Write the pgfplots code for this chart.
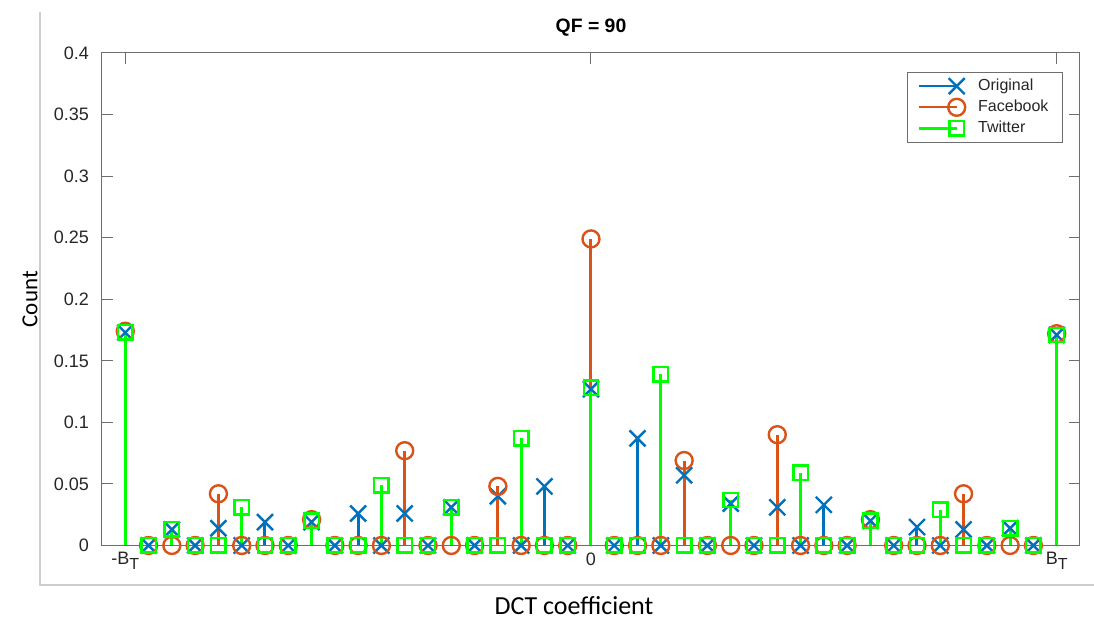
\documentclass[border=0pt]{standalone}
\usepackage{pgfplots}
\pgfplotsset{compat=1.18}
\usepackage{pgfplotstable}
\usepackage{fontspec}
\setmainfont{Liberation Sans}
\newfontfamily\calibri{Carlito}
\definecolor{mblue}{rgb}{0,0.447,0.741}
\definecolor{morange}{rgb}{0.85,0.325,0.098}
\definecolor{mgreen}{rgb}{0,1,0}
\definecolor{framegray}{RGB}{205,205,205}
\definecolor{axgray}{RGB}{110,110,110}
\definecolor{txt}{RGB}{38,38,38}

\pgfplotstableread{
k O F T
-20 0.173 0.174 0.173
-19 0 0 0
-18 0.013 0 0.013
-17 0 0 0
-16 0.014 0.042 0
-15 0 0 0.031
-14 0.019 0 0
-13 0 0 0
-12 0.019 0.021 0.020
-11 0 0 0
-10 0.026 0 0
-9 0 0 0.049
-8 0.026 0.077 0
-7 0 0 0
-6 0.031 0 0.031
-5 0 0 0
-4 0.040 0.048 0
-3 0 0 0.087
-2 0.048 0 0
-1 0 0 0
0 0.127 0.249 0.128
1 0 0 0
2 0.087 0 0
3 0 0 0.139
4 0.057 0.069 0
5 0 0 0
6 0.034 0 0.037
7 0 0 0
8 0.031 0.090 0
9 0 0 0.059
10 0.033 0 0
11 0 0 0
12 0.020 0.021 0.020
13 0 0 0
14 0.015 0 0
15 0 0 0.029
16 0.013 0.042 0
17 0 0 0
18 0.014 0 0.014
19 0 0 0
20 0.171 0.172 0.171
}\data

\newcommand{\sub}[1]{\raisebox{-0.5ex}{\fontsize{8}{9}\selectfont #1}}

\begin{document}
\begin{tikzpicture}
\path[use as bounding box] (-51pt,-36.75pt) rectangle (496pt,272.75pt);
\draw[framegray, line width=0.8pt] (-31pt,266.75pt) -- (-31pt,-19.75pt) -- (496pt,-19.75pt);
\begin{axis}[
  at={(0,0)}, anchor=south west,
  scale only axis, width=489pt, height=246.25pt,
  clip=false,
  xmin=-21, xmax=21, ymin=0, ymax=0.4,
  xtick={-20,0,20}, xticklabels={-B\sub{T},0,B\sub{T}},
  ytick={0,0.05,0.1,0.15,0.2,0.25,0.3,0.35,0.4},
  scaled y ticks=false,
  yticklabel style={/pgf/number format/fixed, /pgf/number format/precision=2, xshift=-3pt},
  /pgf/number format/assume math mode=true,
  tick label style={font=\fontsize{9}{10.5}\selectfont, text=txt},
  axis line style={axgray, line width=0.5pt},
  major tick style={axgray, line width=0.5pt},
  major tick length=5.5pt,
  tick align=inside,
  title={QF = 90},
  title style={font=\bfseries\fontsize{9.7}{11}\selectfont, text=black, at={(axis description cs:0.5,1.0264)}, anchor=center},
  xlabel={DCT coefficient},
  xlabel style={font=\calibri\fontsize{13}{15}\selectfont, text=black, at={(axis description cs:0.4826,-0.1228)}, anchor=center},
  ylabel={Count},
  ylabel style={font=\calibri\fontsize{11.5}{13}\selectfont, text=black, at={(axis description cs:-0.0736,0.5)}, anchor=center},
  legend image code/.code={\draw[#1, mark repeat=2, mark phase=2] plot coordinates {(0pt,0pt) (19pt,0pt)};},
  legend cell align=left,
  legend style={at={(axis description cs:0.9826,0.9614)}, anchor=north east, draw=axgray, line width=0.5pt,
    font=\fontsize{8}{9.6}\selectfont, text=txt, inner xsep=5pt, inner ysep=1.2pt, row sep=-0.75pt,
    /tikz/every odd column/.append style={column sep=4.5pt}},
]
\addplot[ycomb, mblue, line width=1.5pt, mark=none, forget plot] table[x=k,y=O]{\data};
\addplot[only marks, mblue, mark=x, mark size=5.66pt, mark options={line width=1.2pt}, forget plot] table[x=k,y=O]{\data};
\addplot[ycomb, morange, line width=1.5pt, mark=none, forget plot] table[x=k,y=F]{\data};
\addplot[only marks, morange, mark=o, mark size=4.25pt, mark options={line width=1.2pt}, forget plot] table[x=k,y=F]{\data};
\addplot[ycomb, mgreen, line width=1.5pt, mark=none, forget plot] table[x=k,y=T]{\data};
\addplot[only marks, mgreen, mark=square, mark size=3.6pt, mark options={line width=1.2pt}, forget plot] table[x=k,y=T]{\data};
\addlegendimage{mblue, line width=1.2pt, mark=x, mark size=5.66pt, mark options={line width=1.2pt}}
\addlegendentry{Original}
\addlegendimage{morange, line width=1.2pt, mark=o, mark size=4.25pt, mark options={line width=1.2pt}}
\addlegendentry{Facebook}
\addlegendimage{mgreen, line width=1.2pt, mark=square, mark size=3.6pt, mark options={line width=1.2pt}}
\addlegendentry{Twitter}
\end{axis}
\end{tikzpicture}
\end{document}
